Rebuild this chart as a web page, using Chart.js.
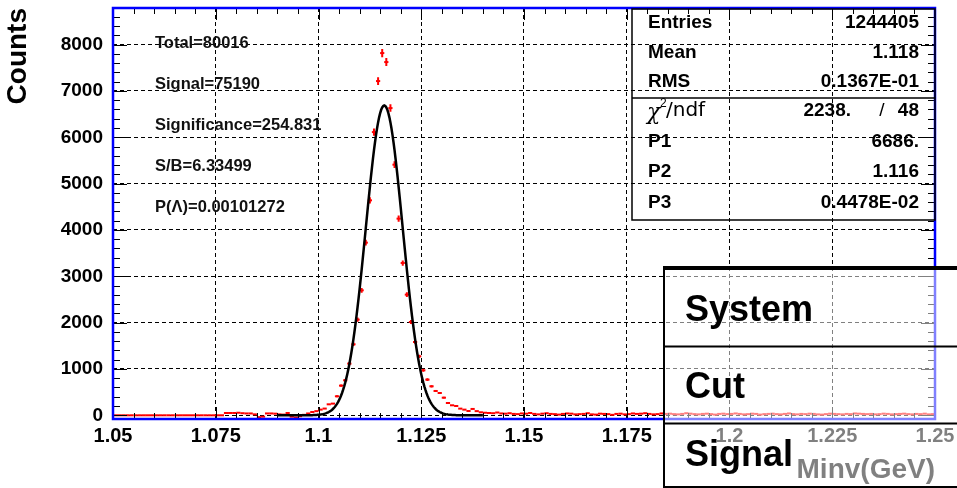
<!DOCTYPE html>
<html>
<head>
<meta charset="utf-8">
<script src="https://cdn.jsdelivr.net/npm/chart.js@4.4.1/dist/chart.umd.min.js"></script>
<style>
  html, body { margin: 0; padding: 0; background: #ffffff; overflow: hidden; }
  #wrap { width: 957px; height: 488px; position: relative; }
</style>
</head>
<body>
<div id="wrap"><canvas id="c" width="957" height="488"></canvas></div>
<script>
const FONT = '"Liberation Sans", Arial, Helvetica, sans-serif';

// Invariant-mass histogram: 200 bins of 1 MeV from 1.05 to 1.25 GeV
const histLow = 1.05;
const histBinWidth = 0.001;
const counts = [
  0, 0, 0, 0, 0, 0, 0, 0, 0, 0,
  0, 0, 0, 0, 0, 0, 0, 0, 0, 0,
  0, 0, 0, 0, 0, 0, 0, 50, 50, 50,
  55, 45, 40, 40, 20, -40, -30, 40, 40, 35,
  20, 15, 50, -30, -50, -20, 10, 40, 71, 90,
  123, 145, 237, 252, 410, 640, 755, 1115, 1532, 2065,
  2697, 3726, 4639, 6112, 7213, 7817, 7623, 6630, 5409, 4244,
  3286, 2604, 2013, 1582, 1273, 971, 770, 626, 525, 481,
  380, 265, 216, 201, 144, 122, 93, 137, 90, 65,
  55, 50, 45, 60, 40, 35, 45, 30, 25, 40,
  35, 50, 30, 20, 35, 45, 30, 25, 15, 30,
  40, 35, 20, 25, 30, 45, 20, 15, 35, 30,
  25, 10, 30, 35, 20, 25, 40, 30, 35, 45,
  30, 20, 25, 40, 30, 35, 25, 20, 30, 45,
  35, 25, 20, 30, 35, 25, 15, 30, 35, 25,
  30, 40, 30, 20, 25, 35, 30, 15, 25, 30,
  35, 25, 20, 30, 40, 25, 20, 30, 25, 35,
  30, 20, 15, 25, 35, 30, 25, 20, 30, 25,
  40, 35, 30, 25, 30, 20, 25, 35, 30, 20,
  25, 30, 35, 25, 20, 30, 25, 35, 20, 25
];

// Gaussian fit: P1 (constant), P2 (mean), P3 (sigma), and the fit window
const fitParams = [6686, 1.116, 0.004478];
const fitRange = [1.09, 1.14];

// Axis divisions
const xTicks = [1.05, 1.075, 1.1, 1.125, 1.15, 1.175, 1.2, 1.225, 1.25];
const yTicks = [0, 1000, 2000, 3000, 4000, 5000, 6000, 7000, 8000];

// Statistics box
const statRows = [['Entries', '1244405'], ['Mean', '1.118'], ['RMS', '0.1367E-01']];
const chi2Ndf = ['2238.', '48'];
const fitRows = [['P1', '6686.'], ['P2', '1.116'], ['P3', '0.4478E-02']];

// Yield summary
const infoLines = ['Total=80016', 'Signal=75190', 'Significance=254.831', 'S/B=6.33499', 'P(\u039B)=0.00101272'];

// Side table
const tableLabels = ['System', 'Cut', 'Signal'];

const histPoints = counts.map((c, i) => ({ x: histLow + (i + 0.5) * histBinWidth, y: c }));

const fitPoints = [];
const fitSteps = 200;
for (let k = 0; k <= fitSteps; k++) {
  const x = fitRange[0] + (fitRange[1] - fitRange[0]) * k / fitSteps;
  const t = (x - fitParams[1]) / fitParams[2];
  fitPoints.push({ x: x, y: fitParams[0] * Math.exp(-0.5 * t * t) });
}

function subdivisions(majors, n) {
  const out = [];
  for (let i = 0; i < majors.length - 1; i++) {
    for (let j = 0; j < n; j++) {
      out.push({ v: majors[i] + (majors[i + 1] - majors[i]) * j / n, major: j === 0 });
    }
  }
  out.push({ v: majors[majors.length - 1], major: true });
  return out;
}

const decorations = {
  id: 'decorations',
  beforeDatasetsDraw(chart) {
    // vertical Poisson error bars of the histogram
    const { ctx, chartArea: a, scales: { x, y } } = chart;
    ctx.save();
    ctx.beginPath();
    ctx.rect(a.left, a.top, a.right - a.left, a.bottom - a.top);
    ctx.clip();
    ctx.strokeStyle = '#ff0000';
    ctx.lineWidth = 2;
    ctx.beginPath();
    histPoints.forEach(p => {
      const err = Math.sqrt(Math.abs(p.y));
      const top = y.getPixelForValue(p.y + err);
      const bot = y.getPixelForValue(p.y - err);
      if (bot - top < 1.5) return;
      const px = x.getPixelForValue(p.x);
      ctx.moveTo(px, top);
      ctx.lineTo(px, bot);
    });
    ctx.stroke();
    ctx.restore();
  },
  afterDatasetsDraw(chart) {
    const { ctx, chartArea: a, scales: { x, y } } = chart;
    ctx.save();

    // tick marks on all four sides, pointing inwards
    ctx.strokeStyle = '#000';
    ctx.lineWidth = 1;
    ctx.beginPath();
    subdivisions(xTicks, 5).forEach(t => {
      const px = Math.round(x.getPixelForValue(t.v)) + 0.5;
      const len = t.major ? 12 : 6;
      ctx.moveTo(px, a.bottom); ctx.lineTo(px, a.bottom - len);
      ctx.moveTo(px, a.top); ctx.lineTo(px, a.top + len);
    });
    const yDivs = subdivisions(yTicks, 5);
    yDivs.push({ v: 8200, major: false }, { v: 8400, major: false }, { v: 8600, major: false });
    yDivs.forEach(t => {
      const py = Math.round(y.getPixelForValue(t.v)) + 0.5;
      const len = t.major ? 14 : 7;
      ctx.moveTo(a.left, py); ctx.lineTo(a.left + len, py);
      ctx.moveTo(a.right, py); ctx.lineTo(a.right - len, py);
    });
    ctx.stroke();

    // frame
    ctx.strokeStyle = '#0000ff';
    ctx.lineWidth = 2.5;
    ctx.strokeRect(a.left, a.top, a.right - a.left, a.bottom - a.top);

    // yield summary text
    ctx.fillStyle = '#111';
    ctx.font = 'bold 16.5px ' + FONT;
    ctx.textAlign = 'left';
    ctx.textBaseline = 'middle';
    infoLines.forEach((s, i) => ctx.fillText(s, 155, 43 + i * 41));

    // statistics box
    const bx0 = 632, by0 = 9, bx1 = 935, by1 = 220, bsep = 98;
    ctx.strokeStyle = '#000';
    ctx.lineWidth = 1.5;
    ctx.strokeRect(bx0, by0, bx1 - bx0, by1 - by0);
    ctx.beginPath();
    ctx.moveTo(bx0, bsep); ctx.lineTo(bx1, bsep);
    ctx.stroke();

    ctx.fillStyle = '#000';
    ctx.font = 'bold 19px ' + FONT;
    const rowY = [23, 53, 82];
    statRows.forEach((r, i) => {
      ctx.textAlign = 'left'; ctx.fillText(r[0], 648, rowY[i]);
      ctx.textAlign = 'right'; ctx.fillText(r[1], 919, rowY[i]);
    });
    const fitY = [142, 172, 203];
    fitRows.forEach((r, i) => {
      ctx.textAlign = 'left'; ctx.fillText(r[0], 648, fitY[i]);
      ctx.textAlign = 'right'; ctx.fillText(r[1], 919, fitY[i]);
    });
    // chi2 / ndf row
    const cy = 111;
    ctx.textAlign = 'right';
    ctx.fillText(chi2Ndf[0], 851, cy);
    ctx.fillText(chi2Ndf[1], 919, cy);
    ctx.font = '19px ' + FONT;
    ctx.textAlign = 'center';
    ctx.fillText('/', 882, cy);
    ctx.textAlign = 'left';
    ctx.font = 'italic 22px "DejaVu Serif", serif';
    ctx.fillText('\u03C7', 647, cy + 2);
    ctx.font = '12px ' + FONT;
    ctx.fillText('2', 660, cy - 7);
    ctx.font = '20px "DejaVu Sans", sans-serif';
    ctx.fillText('/ndf', 666, cy);

    ctx.restore();
  },
  afterDraw(chart) {
    const { ctx } = chart;
    ctx.save();
    // translucent side table
    const tx0 = 663, ty0 = 268, tx1 = 957, ty1 = 488;
    ctx.fillStyle = 'rgba(255,255,255,0.5)';
    ctx.fillRect(tx0, ty0, tx1 - tx0, ty1 - ty0);
    ctx.fillStyle = '#000';
    ctx.fillRect(tx0, ty0 - 2, tx1 - tx0, 4);
    ctx.fillRect(tx0, 345.5, tx1 - tx0, 2);
    ctx.fillRect(tx0, 422.5, tx1 - tx0, 2);
    ctx.fillRect(tx0, 486, tx1 - tx0, 2);
    ctx.fillRect(tx0, ty0, 2, ty1 - ty0);

    ctx.font = 'bold 36px ' + FONT;
    ctx.textAlign = 'left';
    ctx.textBaseline = 'alphabetic';
    const baselines = [321, 398, 466];
    tableLabels.forEach((s, i) => ctx.fillText(s, 685, baselines[i]));
    ctx.restore();
  }
};

new Chart(document.getElementById('c'), {
  type: 'scatter',
  data: {
    datasets: [
      {
        label: 'fit',
        data: fitPoints,
        showLine: true,
        borderColor: '#000000',
        borderWidth: 2.5,
        pointRadius: 0,
        fill: false,
        tension: 0
      },
      {
        label: 'Minv',
        data: histPoints,
        pointStyle: 'line',
        pointRadius: 2.1,
        pointHoverRadius: 2.1,
        pointBorderWidth: 2,
        borderColor: '#ff0000',
        backgroundColor: '#ff0000'
      }
    ]
  },
  options: {
    responsive: false,
    animation: false,
    devicePixelRatio: 1,
    events: [],
    layout: { padding: { top: 8, right: 22, left: 0, bottom: 0 } },
    plugins: { legend: { display: false }, tooltip: { enabled: false } },
    scales: {
      x: {
        type: 'linear',
        min: 1.05,
        max: 1.25,
        afterBuildTicks: s => { s.ticks = xTicks.map(v => ({ value: v })); },
        afterFit: s => { s.height = 69; s.paddingLeft = 0; s.paddingRight = 0; },
        grid: { color: '#000', lineWidth: 1, drawTicks: false },
        border: { display: false, dash: [4, 3] },
        ticks: {
          font: { family: FONT, size: 20, weight: 'bold' },
          color: '#000',
          padding: 5,
          maxRotation: 0,
          autoSkip: false,
          callback: v => String(+Number(v).toFixed(3))
        },
        title: {
          display: true,
          text: 'Minv(GeV)',
          align: 'end',
          color: '#000',
          font: { family: FONT, size: 28, weight: 'bold' },
          padding: { top: 0, bottom: 1 }
        }
      },
      y: {
        type: 'linear',
        min: -80,
        max: 8790,
        afterBuildTicks: s => { s.ticks = yTicks.map(v => ({ value: v })); },
        afterFit: s => { s.width = 113; s.paddingTop = 0; s.paddingBottom = 0; },
        grid: { color: '#000', lineWidth: 1, drawTicks: false },
        border: { display: false, dash: [4, 3] },
        ticks: {
          font: { family: FONT, size: 19, weight: 'bold' },
          color: '#000',
          padding: 10,
          autoSkip: false,
          callback: v => String(v)
        },
        title: {
          display: true,
          text: 'Counts',
          align: 'end',
          color: '#000',
          font: { family: FONT, size: 28, weight: 'bold' },
          padding: { top: 1, bottom: 0 }
        }
      }
    }
  },
  plugins: [decorations]
});
</script>
</body>
</html>
